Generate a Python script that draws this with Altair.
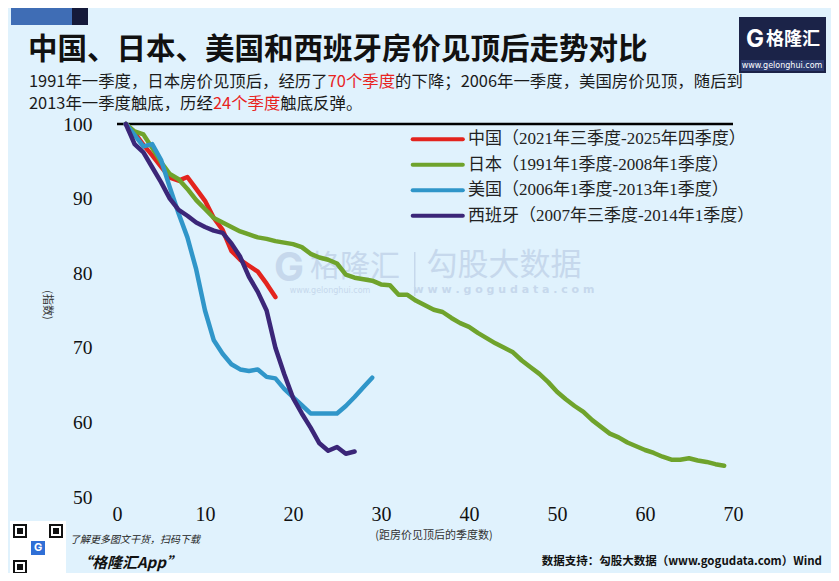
import altair as alt
import pandas as pd

# ---------------- data ----------------
series_names = [
    "中国（2021年三季度-2025年四季度）",
    "日本（1991年1季度-2008年1季度）",
    "美国（2006年1季度-2013年1季度）",
    "西班牙（2007年三季度-2014年1季度）",
]
series_colors = ["#E3241E", "#6FA32C", "#3096C9", "#3B2678"]
series_widths = [4.5, 4.5, 3.5, 4.5]

china = [100, 98.8, 97.2, 95.8, 94.3, 92.8, 92.4, 92.9, 91.3, 89.7, 87.4, 85.8,
         83.0, 81.8, 81.0, 80.2, 78.6, 76.8]
japan = [100, 99.0, 98.6, 96.8, 94.9, 93.3, 92.6, 91.3, 89.8, 88.6, 87.4, 86.8,
         86.2, 85.6, 85.2, 84.8, 84.6, 84.3, 84.1, 83.9, 83.5, 82.6, 82.1, 81.8,
         81.3, 79.8, 79.4, 79.2, 79.0, 78.5, 78.4, 77.1, 77.1, 76.3, 75.7, 75.1,
         74.8, 74.0, 73.3, 72.8, 72.0, 71.3, 70.6, 70.0, 69.4, 68.3, 67.4, 66.5,
         65.4, 64.1, 63.1, 62.2, 61.4, 60.3, 59.4, 58.5, 58.0, 57.3, 56.8, 56.3,
         55.9, 55.4, 55.0, 55.0, 55.2, 54.9, 54.7, 54.4, 54.2]
us = [100, 98.5, 97.0, 97.3, 95.2, 91.5, 88.0, 84.8, 80.5, 75.0, 71.0, 69.2,
      67.8, 67.1, 66.9, 67.1, 66.1, 65.9, 64.5, 63.4, 62.3, 61.2, 61.2, 61.2,
      61.2, 62.2, 63.4, 64.7, 66.0]
spain = [100, 97.3, 96.2, 94.2, 92.2, 90.0, 88.5, 87.7, 86.8, 86.2, 85.7, 85.4,
         84.0, 82.2, 79.5, 77.5, 75.0, 70.0, 66.5, 63.3, 61.2, 59.3, 57.2, 56.2,
         56.7, 55.8, 56.1]

x_ticks = [0, 10, 20, 30, 40, 50, 60, 70]
y_ticks = [50, 60, 70, 80, 90, 100]

title_text = "中国、日本、美国和西班牙房价见顶后走势对比"
sub_line1 = [("1991年一季度，日本房价见顶后，经历了", "#1a1a1a"), ("70个季度", "#E8231F"),
             ("的下降；2006年一季度，美国房价见顶，随后到", "#1a1a1a")]
sub_line2 = [("2013年一季度触底，历经", "#1a1a1a"), ("24个季度", "#E8231F"),
             ("触底反弹。", "#1a1a1a")]

# ---------------- build tables ----------------
rows = []
for name, vals in zip(series_names, [china, japan, us, spain]):
    for i, v in enumerate(vals):
        rows.append({"name": name, "q": i + 1, "v": v, "i": i})
df = pd.DataFrame(rows)
legend_df = pd.DataFrame({"name": series_names, "idx": list(range(len(series_names)))})
one = pd.DataFrame({"k": [0]})

CJK = "Noto Sans CJK SC"
SERIF = "Liberation Serif, Noto Sans CJK SC"

xs = alt.Scale(domain=[0, 70], nice=False, zero=False)
ys = alt.Scale(domain=[50, 100], nice=False, zero=False)
cs = alt.Scale(domain=series_names, range=series_colors)
ws = alt.Scale(domain=series_names, range=series_widths)


def rect(x, y, x2, y2, color, opacity=1.0):
    return alt.Chart(one).mark_rect(color=color, opacity=opacity).encode(
        x=alt.value(x), x2=alt.value(x2), y=alt.value(y), y2=alt.value(y2))


def txt(s, x, y, size, color="#1a1a1a", font=CJK, weight="normal", align="left",
        baseline="middle", angle=0, style="normal", opacity=1.0):
    return alt.Chart(one).mark_text(
        text=s, fontSize=size, color=color, font=font, fontWeight=weight,
        align=align, baseline=baseline, angle=angle, fontStyle=style,
        opacity=opacity).encode(x=alt.value(x), y=alt.value(y))


def text_width(s, fs):
    return sum(fs * (0.554 if ord(c) < 128 else 1.0) for c in s)


layers = []

# decorations top-left
layers.append(rect(-106, -130, -45, -99, "#3F6DB5"))
layers.append(rect(-45, -130, -29, -99, "#151A3A"))

# title
layers.append(txt(title_text, -89, -74, 29.5, color="#111111", weight="bold"))

# subtitle with red highlights
FS = 16.4
for segs, yy in [(sub_line1, -42), (sub_line2, -20)]:
    x0 = -88
    for s, col in segs:
        layers.append(txt(s, x0, yy, FS, color=col))
        x0 += text_width(s, FS)

# logo box top right
layers.append(rect(622, -107, 709, -51, "#1B2348"))
layers.append(rect(624, -64, 707, -53, "#2B3A6E"))
layers.append(txt("G", 638, -84, 24, color="white", font="Inter", weight="bold", align="center"))
layers.append(txt("格隆汇", 676, -84, 18, color="white", weight="bold", align="center"))
layers.append(txt("www.gelonghui.com", 665, -58, 8, color="white", font="DejaVu Sans", align="center"))

# watermarks
wm = "#C6D8EC"
layers.append(txt("G", 172, 145, 40, color=wm, font="Inter", weight="bold", align="center"))
layers.append(txt("格隆汇", 238, 143, 30, color=wm, align="center"))
layers.append(txt("www.gelonghui.com", 213, 167, 8, color=wm, font="DejaVu Sans", align="center"))
layers.append(rect(297, 128, 298.5, 172, wm))
layers.append(txt("勾股大数据", 387, 142, 31, color=wm, align="center"))
layers.append(txt("w w w . g o g u d a t a . c o m", 387, 166, 11, color=wm,
                  font="DejaVu Sans", weight="bold", align="center"))

# reference line at 100
ref = alt.Chart(one).mark_rule(color="black", strokeWidth=2.5).encode(
    x=alt.datum(0, scale=xs), x2=alt.datum(70), y=alt.datum(100, scale=ys))
layers.append(ref)

# main lines
lines = alt.Chart(df).mark_line(strokeJoin="round", strokeCap="round").encode(
    x=alt.X("q:Q", scale=xs, title=None,
            axis=alt.Axis(values=x_ticks, format="d", domain=False, ticks=False, grid=False,
                          labelFont="Liberation Serif", labelFontSize=20, labelColor="#111111",
                          labelPadding=7, labelFlush=False, labelOverlap=False)),
    y=alt.Y("v:Q", scale=ys, title=None,
            axis=alt.Axis(values=y_ticks, format="d", domain=False, ticks=False, grid=False,
                          labelFont="Liberation Serif", labelFontSize=19.5, labelColor="#111111",
                          labelPadding=25, labelFlush=False, labelOverlap=False)),
    color=alt.Color("name:N", scale=cs, legend=None),
    strokeWidth=alt.StrokeWidth("name:N", scale=ws, legend=None),
    order=alt.Order("i:Q"),
)
layers.append(lines)

# custom legend (positions through the data scales)
leg_base = alt.Chart(legend_df).transform_calculate(
    ly="97.95 - 3.42 * datum.idx", lx="33.6", lx2="39.3", tx="39.9")
leg_lines = leg_base.mark_rule(strokeWidth=4, strokeCap="round").encode(
    x=alt.X("lx:Q", scale=xs), x2="lx2:Q", y=alt.Y("ly:Q", scale=ys),
    color=alt.Color("name:N", scale=cs, legend=None))
leg_text = leg_base.mark_text(align="left", baseline="middle", font=SERIF, fontSize=17,
                              color="#222222").encode(
    x=alt.X("tx:Q", scale=xs), y=alt.Y("ly:Q", scale=ys), text="name:N")
layers += [leg_lines, leg_text]

# axis titles
layers.append(txt("(指数)", -70, 181, 11, color="#333333", angle=90, align="center"))
layers.append(txt("(距房价见顶后的季度数)", 317, 412, 11, color="#333333", align="center"))

# bottom-left QR placeholder and texts
layers.append(rect(-107, 397, -51, 455, "white"))
for (qx, qy) in [(-104, 400), (-68, 400), (-104, 436)]:
    layers.append(rect(qx, qy, qx + 14, qy + 14, "#111111"))
    layers.append(rect(qx + 2, qy + 2, qx + 12, qy + 12, "white"))
    layers.append(rect(qx + 4, qy + 4, qx + 10, qy + 10, "#111111"))
layers.append(rect(-86, 417, -72, 431, "#2F6FD6"))
layers.append(txt("G", -79, 424, 11, color="white", font="Inter", weight="bold", align="center"))
layers.append(txt("了解更多图文干货，扫码下载", -47, 416, 10, color="#222222", style="italic"))
layers.append(txt("“格隆汇App”", -40, 439, 15, color="#111111", weight="bold", style="italic"))
layers.append(txt("数据支持：勾股大数据（www.gogudata.com）Wind", 705, 438, 11.5,
                  color="#111111", weight="bold", align="right"))

chart = alt.layer(*layers).properties(
    width=616, height=373,
    autosize=alt.AutoSizeParams(type="none"),
    padding={"left": 109, "top": 116, "right": 98, "bottom": 76},
    background="#E0F2FD",
).configure_view(stroke=None)

chart.save("out.html", embed_options={"renderer": "svg", "actions": False})
